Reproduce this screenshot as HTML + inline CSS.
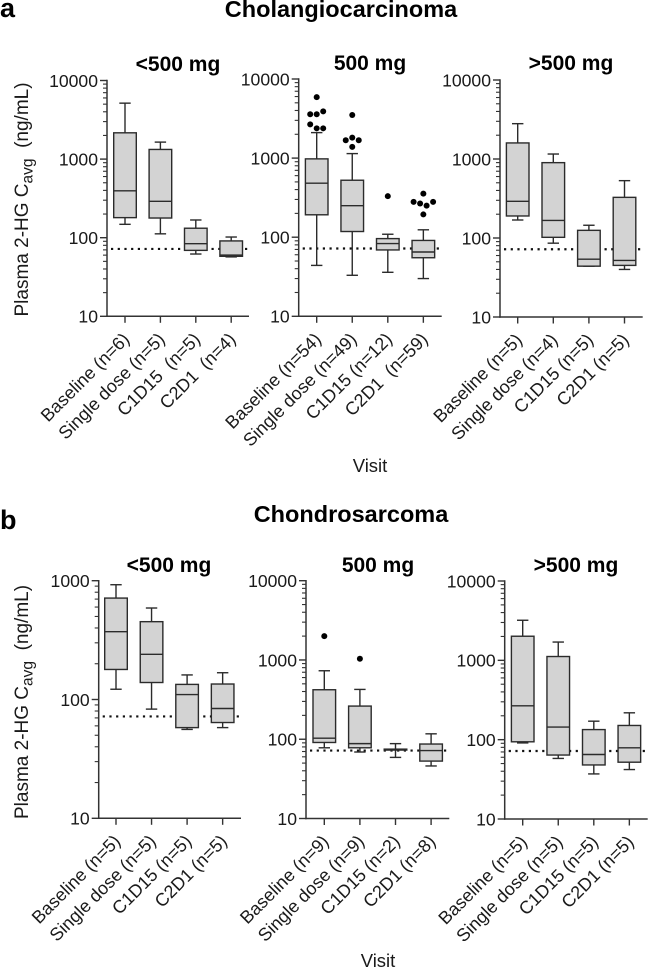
<!DOCTYPE html>
<html>
<head>
<meta charset="utf-8">
<title>Plasma 2-HG by dose</title>
<style>
html,body{margin:0;padding:0;background:#fff;}
svg{display:block;font-family:"Liberation Sans",Arial,sans-serif;filter:blur(0.3px);}
</style>
</head>
<body>
<svg id="figure" width="649" height="969" viewBox="0 0 649 969" xmlns="http://www.w3.org/2000/svg">
  <rect width="649" height="969" fill="#fff"/>
  <text x="0" y="17" font-size="27" font-weight="bold" fill="#000">a</text>
  <text x="341" y="17" font-size="23.5" font-weight="bold" fill="#000" text-anchor="middle">Cholangiocarcinoma</text>
  <text x="0" y="529" font-size="27" font-weight="bold" fill="#000">b</text>
  <text x="351" y="522" font-size="23.5" font-weight="bold" fill="#000" text-anchor="middle">Chondrosarcoma</text>
  <text x="370" y="472" font-size="18.5" fill="#1a1a1a" text-anchor="middle">Visit</text>
  <text x="378" y="967" font-size="18.5" fill="#1a1a1a" text-anchor="middle">Visit</text>
  <text transform="translate(28 316.5) rotate(-90)" font-size="19" fill="#1a1a1a">Plasma 2-HG C<tspan font-size="15.5" dy="4.5">avg</tspan><tspan dy="-4.5">&#160;&#160;(ng/mL)</tspan></text>
  <text transform="translate(28 819) rotate(-90)" font-size="19" fill="#1a1a1a">Plasma 2-HG C<tspan font-size="15.5" dy="4.5">avg</tspan><tspan dy="-4.5">&#160;&#160;(ng/mL)</tspan></text>
</svg>
<script>
// ---- Shared data ----
const referenceLevel = 72;
const tickLabelsWide = ["10", "100", "1000", "10000"];
const tickLabelsNarrow = ["10", "100", "1000"];

// ---- Cholangiocarcinoma, <500 mg ----
const a1Categories = ["Baseline (n=6)", "Single dose (n=5)", "C1D15\u00A0 (n=5)", "C2D1\u00A0 (n=4)"];
const a1High = [5150, 1645, 168, 102];
const a1Q3 = [2160, 1327, 132, 91];
const a1Median = [395, 290, 84, 60];
const a1Q1 = [180, 178, 69, 58];
const a1Low = [148, 112, 62, 57];
const a1Outliers = [[], [], [], []];

// ---- Cholangiocarcinoma, 500 mg ----
const a2Categories = ["Baseline (n=54)", "Single dose (n=49)", "C1D15 (n=12)", "C2D1\u00A0 (n=59)"];
const a2High = [2100, 1140, 109, 124];
const a2Q3 = [978, 525, 96, 91];
const a2Median = [482, 250, 83, 65];
const a2Q1 = [192, 118, 69, 55];
const a2Low = [44, 33, 36, 30];
const a2Outliers = [
  [5900, 3580, 3580, 3900, 2670, 2380, 2380],
  [3510, 1680, 1815, 1680, 1385],
  [330],
  [356, 280, 267, 251, 280, 194]
];

// ---- Cholangiocarcinoma, >500 mg ----
const a3Categories = ["Baseline (n=5)", "Single dose (n=4)", "C1D15 (n=5)", "C2D1 (n=5)"];
const a3High = [2800, 1156, 145, 532];
const a3Q3 = [1597, 899, 125, 327];
const a3Median = [291, 167, 54, 52];
const a3Q1 = [190, 102, 44, 45];
const a3Low = [169, 86, 44, 40];
const a3Outliers = [[], [], [], []];

// ---- Chondrosarcoma, <500 mg ----
const b1Categories = ["Baseline (n=5)", "Single dose (n=5)", "C1D15 (n=5)", "C2D1 (n=5)"];
const b1High = [925, 589, 161, 168];
const b1Q3 = [714, 452, 134, 135];
const b1Median = [372, 240, 110, 84];
const b1Q1 = [179, 139, 58, 64];
const b1Low = [122, 83, 56, 58];
const b1Outliers = [[], [], [], []];

// ---- Chondrosarcoma, 500 mg ----
const b2Categories = ["Baseline (n=9)", "Single dose (n=9)", "C1D15 (n=2)", "C2D1 (n=8)"];
const b2High = [731, 425, 88, 117];
const b2Q3 = [421, 262, 75, 87];
const b2Median = [103, 88, 74, 72];
const b2Q1 = [91, 78, 73, 53];
const b2Low = [78, 69, 59, 46];
const b2Outliers = [[2000], [1035], [], []];

// ---- Chondrosarcoma, >500 mg ----
const b3Categories = ["Baseline (n=5)", "Single dose (n=5)", "C1D15 (n=5)", "C2D1 (n=5)"];
const b3High = [3200, 1700, 171, 218];
const b3Q3 = [2013, 1117, 134, 151];
const b3Median = [267, 144, 65, 79];
const b3Q1 = [94, 64, 48, 52];
const b3Low = [91, 58, 37, 42];
const b3Outliers = [[], [], [], []];

// ---- Rendering ----
const AXIS = "#333333", BOX = "#2b2b2b", FILL = "#d3d3d3", TEXT = "#1a1a1a";
const NS = "http://www.w3.org/2000/svg";
const root = document.getElementById("figure");

function make(parent, tag, attrs) {
  const node = document.createElementNS(NS, tag);
  for (const k in attrs) node.setAttribute(k, attrs[k]);
  parent.appendChild(node);
  return node;
}

function strokeLine(parent, x1, y1, x2, y2, color, width) {
  return make(parent, "line", { x1: x1, y1: y1, x2: x2, y2: y2, stroke: color, "stroke-width": width });
}

function makeYScale(tickLabels, top, bottom) {
  const lo = Math.log10(Number(tickLabels[0]));
  const hi = Math.log10(Number(tickLabels[tickLabels.length - 1]));
  return function (v) { return bottom - (Math.log10(v) - lo) / (hi - lo) * (bottom - top); };
}

function makeXScale(first, step) {
  return function (i) { return first + i * step; };
}

function drawYAxis(g, geo, y, tickLabels) {
  const axisLine = strokeLine(g, geo.left, geo.top - 0.7, geo.left, geo.bottom + 0.7, AXIS, 1.5);
  
  
  tickLabels.forEach(function (label, i) {
    const v = Number(label);
    const py = y(v);
    const major = strokeLine(g, geo.left - 7, py, geo.left, py, AXIS, 1.4);
    
    
    const t = make(g, "text", { x: geo.left - 9, y: py + 6.4, "font-size": 17.6, fill: TEXT, "text-anchor": "end" });
    t.textContent = label;
    
    
    if (i < tickLabels.length - 1) {
      for (let m = 2; m <= 9; m++) {
        const my = y(v * m);
        const minor = strokeLine(g, geo.left - 4, my, geo.left, my, AXIS, 1.1);
        
        
      }
    }
  });
}

function drawXAxis(g, geo, x, categories) {
  const axisLine = strokeLine(g, geo.left - 0.7, geo.bottom, geo.right, geo.bottom, AXIS, 1.5);
  
  
  categories.forEach(function (label, i) {
    const px = x(i);
    const tick = strokeLine(g, px, geo.bottom, px, geo.bottom + 6.5, AXIS, 1.4);
    
    
    const ax = px + 5.5, ay = geo.bottom + 24;
    const t = make(g, "text", { x: ax, y: ay, "font-size": 18, fill: TEXT, "text-anchor": "end", transform: "rotate(-45 " + ax + " " + ay + ")" });
    t.textContent = label;
    
    
  });
}

function drawBox(g, cx, y, high, q3, median, q1, low) {
  const half = 11.3, cap = 5.7;
  const group = make(g, "g", {});
  
  
  const wHigh = strokeLine(group, cx, y(high), cx, y(q3), BOX, 1.4);
  
  
  const wLow = strokeLine(group, cx, y(q1), cx, y(low), BOX, 1.4);
  
  
  const capHigh = strokeLine(group, cx - cap, y(high), cx + cap, y(high), BOX, 1.4);
  
  
  const capLow = strokeLine(group, cx - cap, y(low), cx + cap, y(low), BOX, 1.4);
  
  
  const rect = make(group, "rect", { x: cx - half, y: y(q3), width: half * 2, height: y(q1) - y(q3), fill: FILL, stroke: BOX, "stroke-width": 1.4 });
  
  
  const med = strokeLine(group, cx - half, y(median), cx + half, y(median), BOX, 1.4);
  
  
}

// Outliers close in y are spread symmetrically around the category centre, in array order.
function drawOutliers(g, cx, y, values) {
  const spacing = 6.5, gap = 6;
  let cluster = [];
  function flush() {
    cluster.forEach(function (py, i) {
      const dot = make(g, "circle", { cx: cx + (i - (cluster.length - 1) / 2) * spacing, cy: py, r: 3, fill: "#000" });
      
      
    });
    cluster = [];
  }
  values.forEach(function (v) {
    const py = y(v);
    if (cluster.length && Math.abs(py - cluster[cluster.length - 1]) >= gap) flush();
    cluster.push(py);
  });
  flush();
}

function drawPanel(name, title, geo, tickLabels, categories, high, q3, median, q1, low, outliers) {
  const g = make(root, "g", {});
  
  
  const y = makeYScale(tickLabels, geo.top, geo.bottom);
  const x = makeXScale(geo.firstCat, geo.catStep);
  const head = make(g, "text", { x: geo.titleX, y: geo.titleY, "font-size": 21, "font-weight": "bold", fill: "#000", "text-anchor": "middle" });
  head.textContent = title;
  
  
  const ref = strokeLine(g, geo.left + 4, y(referenceLevel), geo.right, y(referenceLevel), "#111", 2.2);
  ref.setAttribute("stroke-dasharray", "2.2 4.5");
  
  
  categories.forEach(function (c, i) {
    drawBox(g, x(i), y, high[i], q3[i], median[i], q1[i], low[i]);
    drawOutliers(g, x(i), y, outliers[i]);
  });
  drawYAxis(g, geo, y, tickLabels);
  drawXAxis(g, geo, x, categories);
}

drawPanel("panel-cholangio-below-500", "<500 mg",
  { left: 107, right: 249, top: 80.5, bottom: 316.3, firstCat: 125, catStep: 35.4, titleX: 178, titleY: 71 },
  tickLabelsWide, a1Categories, a1High, a1Q3, a1Median, a1Q1, a1Low, a1Outliers);
drawPanel("panel-cholangio-500", "500 mg",
  { left: 298.7, right: 441.7, top: 79, bottom: 316.3, firstCat: 316.7, catStep: 35.55, titleX: 370, titleY: 70 },
  tickLabelsWide, a2Categories, a2High, a2Q3, a2Median, a2Q1, a2Low, a2Outliers);
drawPanel("panel-cholangio-above-500", ">500 mg",
  { left: 500, right: 642.7, top: 80, bottom: 317, firstCat: 517.7, catStep: 35.6, titleX: 571, titleY: 70 },
  tickLabelsWide, a3Categories, a3High, a3Q3, a3Median, a3Q1, a3Low, a3Outliers);
drawPanel("panel-chondro-below-500", "<500 mg",
  { left: 98.7, right: 241, top: 580.7, bottom: 818.3, firstCat: 116, catStep: 35.55, titleX: 169, titleY: 572 },
  tickLabelsNarrow, b1Categories, b1High, b1Q3, b1Median, b1Q1, b1Low, b1Outliers);
drawPanel("panel-chondro-500", "500 mg",
  { left: 306, right: 449.3, top: 580.7, bottom: 818.5, firstCat: 324.3, catStep: 35.6, titleX: 378, titleY: 572 },
  tickLabelsWide, b2Categories, b2High, b2Q3, b2Median, b2Q1, b2Low, b2Outliers);
drawPanel("panel-chondro-above-500", ">500 mg",
  { left: 504.7, right: 647.7, top: 581, bottom: 819, firstCat: 522.7, catStep: 35.55, titleX: 576, titleY: 572 },
  tickLabelsWide, b3Categories, b3High, b3Q3, b3Median, b3Q1, b3Low, b3Outliers);
</script>
</body>
</html>
